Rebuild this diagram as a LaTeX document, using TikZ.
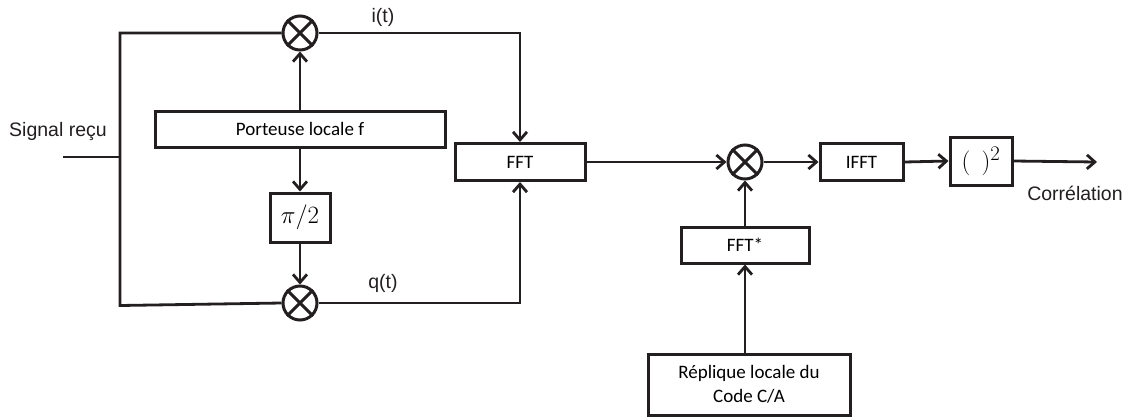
\documentclass[tikz,border=0pt]{standalone}
\usepackage[no-math]{fontspec}
\setmainfont{Liberation Sans}
\newfontfamily\calib{Carlito}
\usetikzlibrary{arrows.meta}
\definecolor{ink}{HTML}{231F20}
\tikzset{
  wire/.style={line width=2.8pt, draw=ink},
  arr/.style={wire, -{Straight Barb[length=8pt,width=14pt,line width=2.8pt]}},
  blk/.style={draw=ink, line width=3pt, fill=white, inner sep=0pt, font=\calib\fontsize{19}{22}\selectfont, align=center},
  mix/.style={draw=ink, line width=3pt, circle, minimum size=34pt, inner sep=0pt},
  lbl/.style={font=\fontsize{19.5}{22}\selectfont, text=ink, inner sep=0pt}
}
\newcommand{\crossit}[1]{\draw[line width=3pt, draw=ink] (#1.north east) -- (#1.south west) (#1.north west) -- (#1.south east);}
\begin{document}
\begin{tikzpicture}[x=1pt,y=-1pt]
\useasboundingbox[fill=white] (0,0) rectangle (1127,416);
% nodes
\node[mix] (mixI) at (300,33) {};
\node[mix] (mixQ) at (300,303) {};
\node[mix] (mixC) at (745,162) {};
\crossit{mixI}\crossit{mixQ}\crossit{mixC}
\node[blk, minimum width=290pt, minimum height=36pt] (port) at (300,129) {Porteuse locale f};
\node[blk, minimum width=60pt, minimum height=49pt, font=\fontsize{27}{30}\selectfont] (phase) at (300,217.5) {$\pi/2$};
\node[blk, minimum width=130pt, minimum height=37pt] (fft) at (520,162) {FFT};
\node[blk, minimum width=83pt, minimum height=37pt] (ifft) at (861.5,162) {IFFT};
\node[blk, minimum width=62pt, minimum height=48pt, font=\fontsize{28}{30}\selectfont] (sq) at (981,161) {$(\;\,)^{2}$};
\node[blk, minimum width=128pt, minimum height=36pt] (fftc) at (745,245) {FFT*};
\node[blk, minimum width=202pt, minimum height=61pt, font=\calib\fontsize{19}{24}\selectfont] (rep) at (749,384.5) {Réplique locale du\\Code C/A};
% labels
\node[lbl] (sig) at (58,131) {Signal reçu};
\node[lbl] (il) at (383,17) {i(t)};
\node[lbl] (ql) at (383,283) {q(t)};
\node[lbl] (corr) at (1075,193) {Corrélation};
% coordinates
\coordinate (tl) at (120,33);
\coordinate (bl) at (120,305.5);
\coordinate (in) at (63,157);
\coordinate (out) at (1097,162);
% connectors
\draw[wire] (in) -- (in -| tl);
\draw[wire, line join=miter] (mixI.west) -- (tl) -- (bl) -- (mixQ.west);
\draw[arr] (port.north) -- (mixI.south);
\draw[arr] (port.south) -- (phase.north);
\draw[arr] (phase.south) -- (mixQ.north);
\draw[arr] (mixI.east) -| (fft.north);
\draw[arr] (mixQ.east) -| (fft.south);
\draw[arr] (fft.east) -- (mixC.west);
\draw[arr] (mixC.east) -- (ifft.west);
\draw[arr] (ifft.east) -- (sq.west);
\draw[arr] (sq.east) -- (out);
\draw[arr] (fftc.north) -- (mixC.south);
\draw[arr] (rep.north -| fftc.south) -- (fftc.south);
\end{tikzpicture}
\end{document}
